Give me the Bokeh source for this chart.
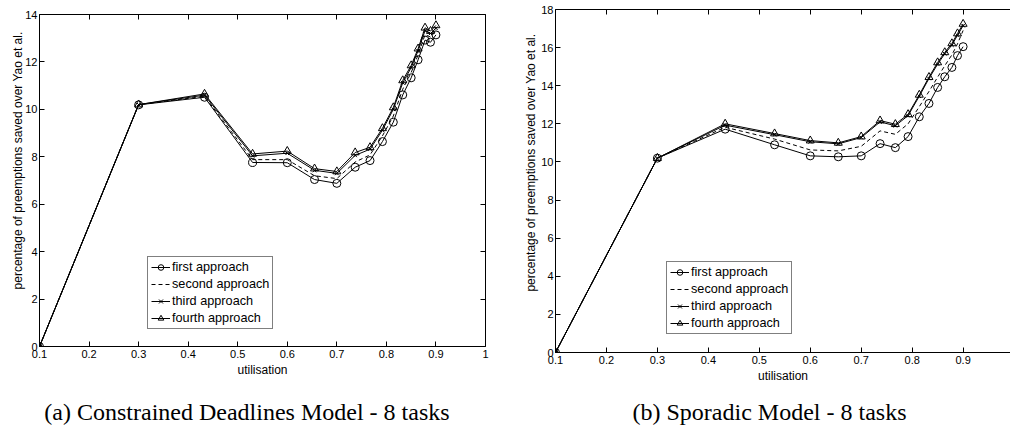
from bokeh.plotting import figure
from bokeh.models import (LinearAxis, FixedTicker, Legend, LegendItem, Range1d,
                          CustomLabelingPolicy)
from bokeh.layouts import row, column
from bokeh.embed import file_html
from bokeh.resources import INLINE

# ---------------- data ----------------
utilisation = [0.1, 0.3, 0.433, 0.53, 0.6, 0.655, 0.7, 0.737, 0.767, 0.792,
               0.814, 0.833, 0.85, 0.864, 0.878, 0.889, 0.9]

# (a) Constrained Deadlines Model - 8 tasks
cd_first = [0, 10.19, 10.51, 7.76, 7.75, 7.04, 6.88, 7.56, 7.84, 8.64,
            9.46, 10.61, 11.33, 12.09, 12.92, 12.83, 13.14]
cd_second = [0, 10.2, 10.55, 7.88, 7.88, 7.2, 7.08, 7.78, 8.08, 8.88,
             9.72, 10.85, 11.55, 12.3, 13.15, 13.05, 13.3]
cd_third = [0, 10.2, 10.6, 8.04, 8.15, 7.43, 7.3, 8.06, 8.32, 9.12,
            10.0, 11.12, 11.76, 12.47, 13.32, 13.2, 13.42]
cd_fourth = [0, 10.2, 10.65, 8.12, 8.24, 7.5, 7.38, 8.18, 8.4, 9.2,
             10.08, 11.22, 11.85, 12.56, 13.44, 13.3, 13.54]

# (b) Sporadic Model - 8 tasks
sp_first = [0, 10.2, 11.72, 10.9, 10.32, 10.27, 10.32, 10.96, 10.75, 11.33,
            12.37, 13.07, 13.91, 14.47, 14.96, 15.58, 16.05]
sp_second = [0, 10.2, 11.82, 11.2, 10.63, 10.58, 10.82, 11.63, 11.45, 12.0,
             12.9, 13.7, 14.45, 15.05, 15.62, 16.2, 16.9]
sp_third = [0, 10.2, 11.93, 11.43, 11.06, 10.95, 11.28, 12.1, 11.9, 12.43,
            13.45, 14.38, 15.13, 15.68, 16.13, 16.65, 17.15]
sp_fourth = [0, 10.2, 12.0, 11.49, 11.12, 11.0, 11.33, 12.17, 11.98, 12.5,
             13.52, 14.45, 15.22, 15.75, 16.22, 16.74, 17.24]

series_names = ["first approach", "second approach", "third approach", "fourth approach"]
x_ticks = [0.1, 0.2, 0.3, 0.4, 0.5, 0.6, 0.7, 0.8, 0.9, 1.0]
y_ticks_a = [0, 2, 4, 6, 8, 10, 12, 14]
y_ticks_b = [0, 2, 4, 6, 8, 10, 12, 14, 16, 18]
x_label = "utilisation"
y_label = "percentage of preemptions saved over Yao et al."
caption_a = "(a) Constrained Deadlines Model - 8 tasks"
caption_b = "(b) Sporadic Model - 8 tasks"

SANS = "Liberation Sans"
SERIF = "Liberation Serif"
NBSP = "\u00a0"

HIDE_CODE = """
for (const i of indices) indices.unset(i)
return indices
"""


def style_axis(ax, show_labels=True):
    ax.major_tick_in = 5
    ax.major_tick_out = 0
    ax.minor_tick_line_color = None
    ax.axis_line_color = "black"
    ax.axis_line_width = 1
    ax.major_tick_line_color = "black"
    if show_labels:
        ax.major_label_text_font = SANS
        ax.major_label_text_font_size = "11px"
        ax.major_label_text_color = "black"
        ax.axis_label_text_font = SANS
        ax.axis_label_text_font_size = "12px"
        ax.axis_label_text_font_style = "normal"
        ax.axis_label_text_color = "black"
    else:
        ax.major_label_text_font_size = "0px"
        ax.major_label_standoff = 0
        ax.major_label_policy = CustomLabelingPolicy(code=HIDE_CODE)


def make_plot(series, y_ticks, x_end, width, mbl, mbr, mbt, mbb, right_axis,
              legend_loc, caption, cap_pos, cap_standoff, ylab_pad, ylab_standoff):
    p = figure(width=width, height=431,
               x_range=Range1d(0.1, x_end), y_range=Range1d(0, y_ticks[-1]),
               output_backend="svg", toolbar_location=None,
               min_border_left=mbl, min_border_right=mbr,
               min_border_top=mbt, min_border_bottom=mbb)
    p.outline_line_color = None
    p.xgrid.visible = False
    p.ygrid.visible = False
    p.background_fill_color = "white"
    p.border_fill_color = "white"

    xa = p.xaxis[0]
    ya = p.yaxis[0]
    style_axis(xa)
    style_axis(ya)
    xa.ticker = FixedTicker(ticks=x_ticks)
    xa.major_label_overrides = {1.0: "1"}
    xa.axis_label = x_label
    xa.major_label_standoff = 3
    xa.axis_label_standoff = 2
    ya.ticker = FixedTicker(ticks=y_ticks)
    ya.axis_label = NBSP * ylab_pad + y_label
    ya.major_label_standoff = 2
    ya.axis_label_standoff = ylab_standoff

    # caption, drawn as the single label of a second, invisible bottom axis
    cap = LinearAxis(ticker=FixedTicker(ticks=[cap_pos]),
                     major_label_overrides={cap_pos: caption})
    cap.axis_line_color = None
    cap.major_tick_line_color = None
    cap.minor_tick_line_color = None
    cap.major_tick_in = 0
    cap.major_tick_out = 0
    cap.major_label_standoff = cap_standoff
    cap.major_label_text_font = SERIF
    cap.major_label_text_font_size = "24px"
    cap.major_label_text_color = "black"
    p.add_layout(cap, "below")

    top = LinearAxis(ticker=FixedTicker(ticks=x_ticks))
    style_axis(top, show_labels=False)
    p.add_layout(top, "above")
    if right_axis:
        rt = LinearAxis(ticker=FixedTicker(ticks=y_ticks))
        style_axis(rt, show_labels=False)
        p.add_layout(rt, "right")

    first, second, third, fourth = series
    l1 = p.line(utilisation, first, line_color="black", line_width=1)
    s1 = p.scatter(utilisation, first, marker="circle", size=8,
                   fill_color=None, line_color="black", line_width=1)
    l2 = p.line(utilisation, second, line_color="black", line_width=1,
                line_dash="4 3")
    l3 = p.line(utilisation, third, line_color="black", line_width=1)
    s3 = p.scatter(utilisation, third, marker="x", size=5,
                   line_color="black", line_width=1)
    l4 = p.line(utilisation, fourth, line_color="black", line_width=1)
    s4 = p.scatter(utilisation, fourth, marker="triangle", size=8,
                   fill_color=None, line_color="black", line_width=1)

    legend = Legend(items=[
        LegendItem(label=series_names[0], renderers=[l1, s1]),
        LegendItem(label=series_names[1], renderers=[l2]),
        LegendItem(label=series_names[2], renderers=[l3, s3]),
        LegendItem(label=series_names[3], renderers=[l4, s4]),
    ], location=legend_loc)
    legend.border_line_color = "black"
    legend.border_line_width = 1
    legend.background_fill_color = "white"
    legend.background_fill_alpha = 1
    legend.label_text_font = SANS
    legend.label_text_font_size = "12.7px"
    legend.label_text_color = "black"
    legend.glyph_width = 19
    legend.glyph_height = 14
    legend.label_height = 14
    legend.label_standoff = 2
    legend.spacing = 3
    legend.padding = 3
    legend.margin = 0
    p.add_layout(legend)
    return p


pa = make_plot([cd_first, cd_second, cd_third, cd_fourth], y_ticks_a,
               1.0, 518, 39, 33, 14, 85, True, (108, 17),
               caption_a, 0.5187, 19, 12, -3)
pb = make_plot([sp_first, sp_second, sp_third, sp_fourth], y_ticks_b,
               0.993, 492, 37, 0, 9, 79, False, (111, 18),
               caption_b, 0.52, 13, 11, 0)

layout = row(column(pa), column(pb))
open("out.html", "w").write(file_html(layout, INLINE))
